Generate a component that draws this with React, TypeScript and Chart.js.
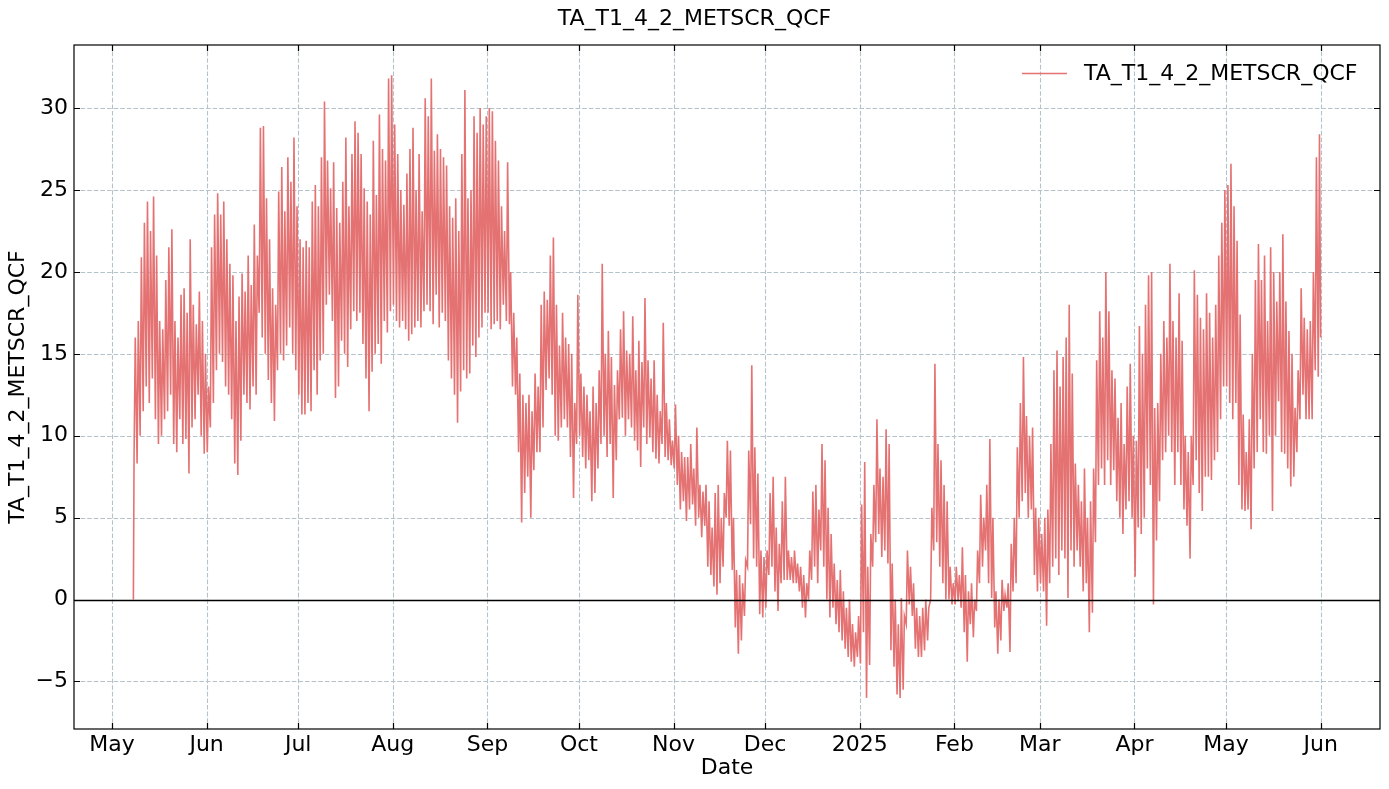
import React, { useEffect, useRef } from 'react';
import { Chart, registerables } from 'chart.js';

Chart.register(...registerables);

const SERIES_NAME = 'TA_T1_4_2_METSCR_QCF';
const LINE_COLOR = '#e57272';
const GRID_COLOR = '#b4c3cb';
const FONT_FAMILY = '"DejaVu Sans", sans-serif';
const FONT_SIZE = 22;

// month tick labels (matplotlib date locator style)
const tickLabels = ['May', 'Jun', 'Jul', 'Aug', 'Sep', 'Oct', 'Nov', 'Dec', '2025', 'Feb', 'Mar', 'Apr', 'May', 'Jun'];
const tickMonths: [number, number][] = [
  [2024, 4], [2024, 5], [2024, 6], [2024, 7], [2024, 8], [2024, 9], [2024, 10],
  [2024, 11], [2025, 0], [2025, 1], [2025, 2], [2025, 3], [2025, 4], [2025, 5],
];
const yTicks = [-5, 0, 5, 10, 15, 20, 25, 30];

// daily highs / lows, one value per day
const hiMay24 = [16, 17, 20.9, 23, 24.3, 22.5, 24.6, 21, 17, 16.5, 19.5, 21.5, 22.6, 17, 16, 18.6, 19, 17.5, 22, 18, 16.8, 18.8, 17, 15];
const loMay24 = [8.5, 8.3, 10, 11.5, 13, 12, 13.5, 11, 9.5, 10, 11, 11.5, 12.5, 9.5, 9, 11, 9.5, 9.8, 7.7, 10.5, 11, 12.5, 10, 8.9];

const hiJun24 = [13, 21.5, 23.5, 24.8, 23.5, 24.3, 22, 20.5, 19.8, 17, 18.5, 19.9, 18.8, 21, 19.2, 22.9, 21, 28.8, 28.9, 24.5, 22, 19, 18, 24.9, 26.4, 23.7, 27, 25.5, 28.2, 24];
const loJun24 = [9, 10.5, 12, 14, 15, 14.5, 13, 12.5, 11, 8.3, 7.6, 9.7, 12.5, 12, 11.6, 13, 12.5, 17.5, 16, 15, 13.4, 12, 10.9, 14, 15, 14.6, 15.5, 16.6, 15, 14];

const hiJul24 = [22, 21.5, 21.9, 21.5, 24.3, 25.3, 24, 27, 30.4, 26.8, 25.1, 26.7, 23.9, 23, 25.5, 28.2, 24, 27.2, 29.2, 28.5, 27.2, 25.1, 24.3, 23.5, 28, 24.7, 29.6, 27.5, 26.8, 31.8, 32];
const loJul24 = [12.5, 11.3, 11.3, 12, 11.5, 14, 12.5, 14.6, 15, 18, 18.6, 17, 12.3, 13, 15.8, 15, 14.2, 16.5, 17.6, 17, 17.5, 15.6, 13.5, 11.5, 13.9, 15, 15.6, 14.4, 17, 16.3, 17.6];

const hiAug24 = [29, 27.2, 25, 24.1, 26, 27.5, 28.8, 25, 27.2, 23.7, 30.6, 29.5, 31.8, 27.4, 28.4, 27.5, 27, 26.5, 24, 23.3, 24.5, 22.5, 27.2, 31.1, 24.5, 25, 29.5, 28.5, 30, 29, 29.5];
const loAug24 = [18, 17, 16.6, 17, 16.5, 15.8, 16.2, 16.6, 17, 16.6, 17.6, 18, 17.6, 16.8, 18.6, 16.6, 17.5, 17, 14.6, 13.5, 12.5, 10.8, 12.7, 14, 13.5, 13.8, 15.5, 14.8, 16, 16.6, 17.5];

const hiSep24 = [30, 29.8, 28, 26.8, 24, 22.5, 26.7, 20, 17.5, 16, 13.8, 12.5, 12, 12.5, 11.5, 13.8, 13, 18, 18.8, 18.3, 21, 22.1, 18, 15.5, 17.5, 16, 15.6, 15, 12, 18.6];
const loSep24 = [17.5, 16.5, 16.8, 17, 16.5, 18, 17, 16.8, 13, 12.5, 9, 4.7, 6.5, 7.5, 5, 7.9, 9, 9, 10.5, 12.8, 13.5, 12.5, 10, 9.7, 10.5, 11, 10.5, 8.7, 6.2, 9.5];

const hiOct24 = [13.8, 13, 12.5, 11.5, 13, 12, 14, 20.5, 15, 16.4, 14.8, 13.1, 14, 16.5, 17.6, 15.2, 15, 17.3, 14, 15.8, 14.5, 18.4, 14.6, 13.5, 14.6, 12.5, 11.5, 16.9, 12, 11, 9.7];
const loOct24 = [10, 8.7, 8, 8.5, 6, 6.5, 8, 9.5, 10, 8.7, 9.5, 6.2, 8.5, 11, 11.1, 10, 11, 10.5, 9.7, 9.1, 8.1, 10.5, 9.5, 9.9, 9, 8.6, 8.3, 9.5, 8.7, 8.5, 8.2];

const hiNov24 = [11.9, 10, 9, 8.7, 8.7, 9.5, 8, 10.5, 7, 6.6, 7, 6, 4.4, 6.5, 7, 5, 6.5, 9.7, 9.1, 5, 1.8, 1.5, 1, 2.4, 9.1, 14.3, 9.3, 7.7, 3, 2.6];
const loNov24 = [8, 7, 5.5, 6, 4.8, 5.5, 5.8, 4.5, 5, 3.8, 4.5, 2, 1.5, 0.8, 0.3, 1, 2, 5, 4.5, 1.8, -1.7, -3.3, -2.5, -1, 2, 4.6, 2.5, 2, -0.9, -1.1];

const hiDec24 = [3, 6.5, 7.5, 4.4, 3.4, 6, 7.5, 3, 2.6, 3, 2.2, 2, 1.5, 1, 3, 6.6, 7, 5.5, 9.5, 8.5, 5.6, 4, 2.2, 1.2, 1.8, 0.5, -0.5, 0, -1.5, -2, -1];
const loDec24 = [-0.5, 1.5, 2, 0.5, -0.7, 1, 1.2, 1.2, 1.2, 1, 1, 0.5, -0.5, -1.1, 0, 1.2, 2, 1, 3, 2, 0, -1.1, -0.5, -1.5, -2, -2.5, -3, -3.5, -3.8, -4.1, -3.5];

const hiJan25 = [5.8, 8.4, 2, 4, 7, 11, 8, 7.5, 10.4, 9.5, 2.2, 0, -1.5, 0.1, -1, 3, 2, 1, -0.5, -1, -0.5, 0, -0.5, 5.6, 14.4, 9.5, 8.5, 7, 6, 2, 1];
const loJan25 = [-3.9, -2, -6, -4, 2, 3.5, 4, 2.6, 3, 2.2, -3.1, -4.1, -5.8, -6, -5.5, -1.5, -0.3, -1, -3, -3.5, -3.5, -3.1, -2.5, 0, 3, 3.5, 2, 1, 0, 0, -0.3];

const hiFeb25 = [2, 1.5, 3.2, 1.5, 0.5, 1, 0, 3, 6.4, 5, 7, 9.8, 5, 0.5, 0, 1.2, 0.3, 1, 3.4, 5, 9.3, 12, 14.8, 11.2, 10, 10.5, 5.6, 5];
const loFeb25 = [-0.3, -0.1, -0.5, -2, -3.8, -1.5, -2.3, -0.7, 1, 2, 3, 1, 0.1, -1.7, -3.3, -2.5, -0.7, -0.5, -3.2, 0.5, 1, 5, 6, 6.5, 5, 5.5, 1.5, 0.5];

const hiMar25 = [4, 5, 5.5, 9.5, 14, 15.2, 13, 14.8, 16, 18, 13.8, 8.3, 7, 6, 8, 5, 6, 8, 14.6, 17.6, 16, 20, 17.6, 14, 13.5, 11.1, 12, 9.5, 13, 14.4, 10];
const loMar25 = [1, 0.5, -1.6, 1, 2, 2.5, 1.5, 3, 2.5, 0.1, 3, 2, 3, 2, 0.5, 1, -2, -0.8, 3.5, 7, 8, 7, 8.5, 7, 7.9, 6, 5, 4, 5.5, 6, 5];

const hiApr25 = [9.7, 16.7, 15, 18, 19.8, 20, 11.7, 12, 15, 17, 16, 20.5, 17, 16, 18.7, 15.8, 10, 9, 10, 20.1, 18.6, 17.2, 16.5, 18.7, 17.5, 16, 18, 21, 23, 25];
const loApr25 = [1.4, 4.4, 4, 5, 8, 7, -0.3, 3.6, 6, 8.5, 9, 10, 9, 7, 9, 7, 5.5, 4.5, 2.5, 7, 8.5, 6.5, 5.4, 7.5, 7.5, 7.3, 8.5, 9, 11, 13];

const hiMay25 = [25.3, 26.6, 24, 21.9, 17.4, 11.3, 9, 11, 15, 19.5, 21.7, 19.5, 21, 17, 21.5, 20, 18.2, 20, 22.3, 18.2, 16.4, 15, 11.7, 14, 19, 17.2, 16.5, 17, 20, 27, 28.4];
const loMay25 = [13, 12, 11, 12, 7, 5.5, 5.4, 5.5, 4.3, 8, 9, 11, 9, 8.9, 10, 5.4, 10, 12.1, 9, 8.9, 8, 6.9, 7.5, 9, 11, 12.5, 11, 11, 11, 14, 13.6];

const firstValue = 0;
const lastValue = 16;

const DAY = 86400000;
const ORIGIN = Date.UTC(2024, 4, 1);
const dayOf = (y: number, m: number, d: number) => (Date.UTC(y, m, d) - ORIGIN) / DAY;

const monthBlocks = [
  { y: 2024, m: 4, first: 8, hi: hiMay24, lo: loMay24 },
  { y: 2024, m: 5, first: 1, hi: hiJun24, lo: loJun24 },
  { y: 2024, m: 6, first: 1, hi: hiJul24, lo: loJul24 },
  { y: 2024, m: 7, first: 1, hi: hiAug24, lo: loAug24 },
  { y: 2024, m: 8, first: 1, hi: hiSep24, lo: loSep24 },
  { y: 2024, m: 9, first: 1, hi: hiOct24, lo: loOct24 },
  { y: 2024, m: 10, first: 1, hi: hiNov24, lo: loNov24 },
  { y: 2024, m: 11, first: 1, hi: hiDec24, lo: loDec24 },
  { y: 2025, m: 0, first: 1, hi: hiJan25, lo: loJan25 },
  { y: 2025, m: 1, first: 1, hi: hiFeb25, lo: loFeb25 },
  { y: 2025, m: 2, first: 1, hi: hiMar25, lo: loMar25 },
  { y: 2025, m: 3, first: 1, hi: hiApr25, lo: loApr25 },
  { y: 2025, m: 4, first: 1, hi: hiMay25, lo: loMay25 },
];

const buildPoints = () => {
  const pts: { x: number; y: number }[] = [{ x: dayOf(2024, 4, 8), y: firstValue }];
  monthBlocks.forEach(({ y, m, first, hi, lo }) => {
    hi.forEach((h, i) => {
      const d = dayOf(y, m, first + i);
      pts.push({ x: d + 0.22, y: lo[i] });
      pts.push({ x: d + 0.62, y: h });
    });
  });
  pts.push({ x: dayOf(2025, 5, 1), y: lastValue });
  return pts;
};

const tickValues = tickMonths.map(([y, m]) => dayOf(y, m, 1));
const xMin = dayOf(2024, 4, 8) - 19.45;
const xMax = dayOf(2025, 5, 1) + 19.45;

const font = `${FONT_SIZE}px ${FONT_FAMILY}`;

// grid, frame, inward ticks, zero line, title, labels and legend
const decorPlugin = {
  id: 'decor',
  beforeDatasetsDraw(chart: any) {
    const { ctx, chartArea: a, scales } = chart;
    ctx.save();
    ctx.strokeStyle = GRID_COLOR;
    ctx.lineWidth = 1.1;
    ctx.setLineDash([4.6, 2]);
    tickValues.forEach((v) => {
      const x = Math.round(scales.x.getPixelForValue(v)) + 0.5;
      ctx.beginPath();
      ctx.moveTo(x, a.top);
      ctx.lineTo(x, a.bottom);
      ctx.stroke();
    });
    yTicks.forEach((v) => {
      const y = Math.round(scales.y.getPixelForValue(v)) + 0.5;
      ctx.beginPath();
      ctx.moveTo(a.left, y);
      ctx.lineTo(a.right, y);
      ctx.stroke();
    });
    ctx.restore();
  },
  afterDatasetsDraw(chart: any) {
    const { ctx, chartArea: a, scales, width } = chart;
    ctx.save();
    // zero line
    const y0 = Math.round(scales.y.getPixelForValue(0)) + 0.5;
    ctx.strokeStyle = '#000';
    ctx.lineWidth = 1.3;
    ctx.beginPath();
    ctx.moveTo(a.left, y0);
    ctx.lineTo(a.right, y0);
    ctx.stroke();

    // frame
    ctx.lineWidth = 1.2;
    ctx.strokeRect(a.left, a.top, a.right - a.left, a.bottom - a.top);

    // inward ticks on all sides
    const len = 6;
    ctx.lineWidth = 1.2;
    tickValues.forEach((v) => {
      const x = Math.round(scales.x.getPixelForValue(v)) + 0.5;
      ctx.beginPath();
      ctx.moveTo(x, a.bottom);
      ctx.lineTo(x, a.bottom - len);
      ctx.moveTo(x, a.top);
      ctx.lineTo(x, a.top + len);
      ctx.stroke();
    });
    yTicks.forEach((v) => {
      const y = Math.round(scales.y.getPixelForValue(v)) + 0.5;
      ctx.beginPath();
      ctx.moveTo(a.left, y);
      ctx.lineTo(a.left + len, y);
      ctx.moveTo(a.right, y);
      ctx.lineTo(a.right - len, y);
      ctx.stroke();
    });

    ctx.fillStyle = '#000';
    ctx.font = font;
    ctx.textBaseline = 'middle';

    // title
    ctx.textAlign = 'center';
    ctx.fillText(SERIES_NAME, width / 2, 19.5);

    // x axis label
    ctx.fillText('Date', (a.left + a.right) / 2, 768);

    // y axis label
    ctx.save();
    ctx.translate(18, (a.top + a.bottom) / 2);
    ctx.rotate(-Math.PI / 2);
    ctx.fillText(SERIES_NAME, 0, 0);
    ctx.restore();

    // legend inside the axes, top right
    ctx.strokeStyle = LINE_COLOR;
    ctx.lineWidth = 1.5;
    ctx.beginPath();
    ctx.moveTo(1022, 73.5);
    ctx.lineTo(1067, 73.5);
    ctx.stroke();
    ctx.textAlign = 'left';
    ctx.fillText(SERIES_NAME, 1084, 74);
    ctx.restore();
  },
};

const App = () => {
  const canvasRef = useRef<HTMLCanvasElement | null>(null);

  useEffect(() => {
    if (!canvasRef.current) return;
    const chart = new Chart(canvasRef.current, {
      type: 'line',
      data: {
        datasets: [
          {
            label: SERIES_NAME,
            data: buildPoints(),
            borderColor: LINE_COLOR,
            borderWidth: 1.6,
            pointRadius: 0,
            tension: 0,
            fill: false,
          },
        ],
      },
      options: {
        animation: false,
        responsive: true,
        maintainAspectRatio: false,
        layout: { padding: { top: 45, right: 9, left: 0, bottom: 0 } },
        plugins: {
          legend: { display: false },
          title: { display: false },
          tooltip: { enabled: false },
        },
        scales: {
          x: {
            type: 'linear',
            min: xMin,
            max: xMax,
            afterFit: (s: any) => {
              s.height = 60;
            },
            afterBuildTicks: (s: any) => {
              s.ticks = tickValues.map((value) => ({ value }));
            },
            grid: { display: false, drawTicks: false },
            border: { display: false },
            ticks: {
              autoSkip: false,
              maxRotation: 0,
              padding: 3,
              color: '#000',
              font: { family: FONT_FAMILY, size: FONT_SIZE },
              callback: (_v: any, i: number) => tickLabels[i],
            },
          },
          y: {
            type: 'linear',
            min: -7.9,
            max: 33.85,
            afterFit: (s: any) => {
              s.width = 74;
            },
            afterBuildTicks: (s: any) => {
              s.ticks = yTicks.map((value) => ({ value }));
            },
            grid: { display: false, drawTicks: false },
            border: { display: false },
            ticks: {
              padding: 6,
              color: '#000',
              font: { family: FONT_FAMILY, size: FONT_SIZE },
              callback: (v: any) => String(v).replace('-', '\u2212'),
            },
          },
        },
      },
      plugins: [decorPlugin],
    });
    return () => chart.destroy();
  }, []);

  return (
    <div style={{ position: 'fixed', left: 0, top: 0, width: 1389, height: 789, background: '#fff' }}>
      <canvas ref={canvasRef}></canvas>
    </div>
  );
};

export default App;
